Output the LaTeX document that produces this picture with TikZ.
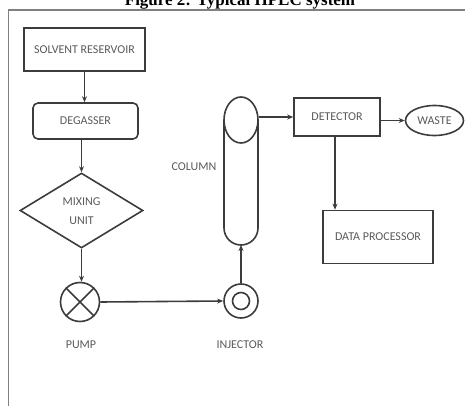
\documentclass[tikz,border=0pt]{standalone}
\usepackage{fontspec}
\setmainfont{Carlito}
\newfontfamily\titlefont{Liberation Serif}
\usetikzlibrary{shapes.geometric,arrows.meta}
\definecolor{ln}{HTML}{3C3C3C}
\definecolor{tx}{HTML}{5A5A5A}
\begin{document}
\begin{tikzpicture}[x=1pt,y=-1pt,
  every node/.style={text=tx,font=\fontsize{12}{14}\selectfont,inner sep=0pt},
  box/.style={draw=ln,line width=1.6pt,rectangle},
  shp/.style={draw=ln,line width=1.6pt},
  arr/.style={draw=ln,line width=1.6pt,-{Stealth[length=6pt,width=5pt]}}]
\useasboundingbox (0,0) rectangle (465,406);
\node[font=\titlefont\bfseries\fontsize{17}{19}\selectfont,text=black,anchor=base] (title) at (240,6) {Figure 2: Typical HPLC system};
\draw[draw=gray,line width=1.6pt] (8.5,406) -- (8.5,10) -- (465,10);
% nodes
\node[box,minimum width=121pt,minimum height=43pt] (res) at (84.5,49.5) {SOLVENT RESERVOIR};
\node[box,rounded corners=5pt,minimum width=105pt,minimum height=36pt] (deg) at (85.5,121) {DEGASSER};
\node[shp,diamond,aspect=1.65,minimum width=123pt,minimum height=75pt] (mix) at (81.5,210.5) {};
\node at (81.5,202) {MIXING};
\node at (81.5,221) {UNIT};
\node[shp,circle,minimum size=39pt] (pump) at (80,302) {};
\draw[shp] (pump.north east) -- (pump.south west) (pump.north west) -- (pump.south east);
\node (pumpl) at (81,345) {PUMP};
\node[shp,circle,minimum size=34pt] (inj) at (241,301) {};
\node[shp,circle,minimum size=17pt] (inji) at (241,301) {};
\node (injl) at (240,345) {INJECTOR};
% column
\draw[shp,rounded corners=17pt] (224,120) -- (224,245) -- (258,245) -- (258,120);
\node[shp,ellipse,minimum width=34pt,minimum height=46pt,fill=white] (col) at (241,120) {};
\coordinate (colb) at (241,245);
\node (coll) at (194,167) {COLUMN};
\node[box,minimum width=86pt,minimum height=38pt] (det) at (337,117) {DETECTOR};
\node[shp,ellipse,minimum width=58pt,minimum height=30pt] (waste) at (434.5,120.5) {WASTE};
\node[box,minimum width=110pt,minimum height=53pt] (dp) at (378,237) {DATA PROCESSOR};
% arrows
\draw[arr] (res.south) -- (deg.north -| res.south);
\draw[arr] (deg.south -| mix.north) -- (mix.north);
\draw[arr] (mix.south) -- (pump.north -| mix.south);
\draw[arr] (pump.east) -- (inj.west);
\draw[arr] (inj.north) -- (colb);
\draw[arr] (col.east |- det.west) -- (det.west);
\draw[arr] (det.east |- waste.west) -- (waste.west);
\draw[arr] (det.south -| 335,0) -- (dp.north -| 335,0);
\end{tikzpicture}
\end{document}
